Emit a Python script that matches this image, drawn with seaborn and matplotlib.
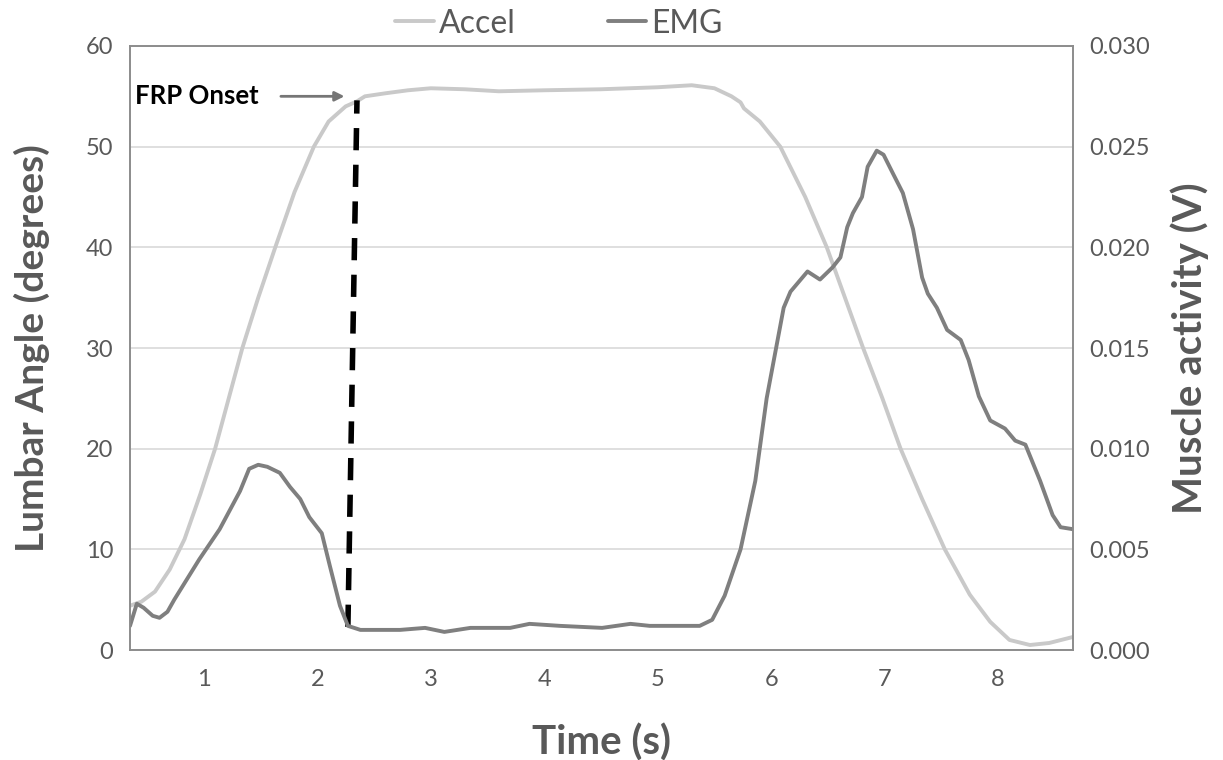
import pandas as pd
import matplotlib.pyplot as plt
import seaborn as sns
from matplotlib.lines import Line2D

# Lumbar angle from accelerometer (degrees)
accel_time = [0.35, 0.45, 0.57, 0.70, 0.83, 0.97, 1.10, 1.22, 1.34, 1.48, 1.63, 1.80,
              1.97, 2.10, 2.25, 2.35, 2.42, 2.60, 2.80, 3.00, 3.30, 3.60, 4.00, 4.50,
              5.00, 5.30, 5.50, 5.65, 5.73, 5.76, 5.90, 6.08, 6.30, 6.49, 6.65, 6.81,
              6.98, 7.14, 7.33, 7.53, 7.75, 7.93, 8.10, 8.28, 8.45, 8.66]
accel_deg = [4.4, 4.8, 5.8, 8.0, 11.0, 15.5, 20.0, 25.0, 30.0, 35.0, 40.0, 45.5,
             50.0, 52.5, 54.0, 54.5, 55.0, 55.3, 55.6, 55.8, 55.7, 55.5, 55.6, 55.7,
             55.9, 56.1, 55.8, 55.0, 54.4, 53.8, 52.5, 50.0, 45.0, 40.0, 35.0, 30.0,
             25.0, 20.0, 15.0, 10.0, 5.5, 2.8, 1.0, 0.5, 0.7, 1.3]

# Muscle activity (V)
emg_time = [0.35, 0.41, 0.47, 0.55, 0.61, 0.68, 0.74, 0.85, 0.96, 1.14, 1.32, 1.40,
            1.48, 1.56, 1.67, 1.76, 1.85, 1.93, 2.04, 2.11, 2.20, 2.27, 2.38, 2.73,
            2.95, 3.12, 3.35, 3.70, 3.87, 4.14, 4.51, 4.76, 4.93, 5.37, 5.48, 5.59,
            5.73, 5.86, 5.96, 6.03, 6.11, 6.17, 6.32, 6.43, 6.54, 6.61, 6.67, 6.72,
            6.80, 6.85, 6.93, 6.99, 7.07, 7.16, 7.25, 7.33, 7.38, 7.46, 7.55, 7.67,
            7.74, 7.83, 7.93, 8.06, 8.15, 8.24, 8.37, 8.48, 8.55, 8.66]
emg_v = [0.0012, 0.0023, 0.0021, 0.0017, 0.0016, 0.0019, 0.0025, 0.0035, 0.0045, 0.0060,
         0.0079, 0.0090, 0.0092, 0.0091, 0.0088, 0.0081, 0.0075, 0.0066, 0.0058, 0.0042,
         0.0022, 0.0012, 0.0010, 0.0010, 0.0011, 0.0009, 0.0011, 0.0011, 0.0013, 0.0012,
         0.0011, 0.0013, 0.0012, 0.0012, 0.0015, 0.0027, 0.0050, 0.0084, 0.0125, 0.0146,
         0.0170, 0.0178, 0.0188, 0.0184, 0.0190, 0.0195, 0.0210, 0.0217, 0.0225, 0.0240,
         0.0248, 0.0246, 0.0237, 0.0227, 0.0209, 0.0185, 0.0177, 0.0170, 0.0159, 0.0154,
         0.0144, 0.0126, 0.0114, 0.0110, 0.0104, 0.0102, 0.0084, 0.0067, 0.0061, 0.0060]

# FRP onset marker (time, degrees)
onset_time = [2.27, 2.35]
onset_deg = [2.3, 54.6]

accel_df = pd.DataFrame({'time': accel_time, 'angle': accel_deg})
emg_df = pd.DataFrame({'time': emg_time, 'volts': emg_v})

sns.set_style("white")
plt.rcParams['font.family'] = ['Lato', 'DejaVu Sans']

text_col = '#595959'
accel_col = '#c9c9c9'
emg_col = '#7f7f7f'

fig = plt.figure(figsize=(12.23, 7.6), dpi=100)
ax = fig.add_axes([0.1063, 0.1447, 0.7711, 0.7948])
ax2 = ax.twinx()

sns.lineplot(data=accel_df, x='time', y='angle', ax=ax, color=accel_col, linewidth=2.8)
sns.lineplot(data=emg_df, x='time', y='volts', ax=ax2, color=emg_col, linewidth=2.8)
for ln in ax.lines + ax2.lines:
    ln.set_solid_joinstyle('round')
    ln.set_solid_capstyle('round')
ax.plot(onset_time, onset_deg, color='black', linewidth=4, dashes=(4, 2.6), zorder=5)

ax.set_xlim(0.35, 8.66)
ax.set_ylim(0, 60)
ax2.set_ylim(0, 0.030)
ax.set_xticks(range(1, 9))
ax.set_yticks(range(0, 61, 10))
ax2.set_yticks([0, 0.005, 0.01, 0.015, 0.02, 0.025, 0.03])
ax2.set_yticklabels([f'{v:.3f}' for v in ax2.get_yticks()])

ax.yaxis.grid(True, color='#d9d9d9', linewidth=1.2)
ax.set_axisbelow(True)
for a in (ax, ax2):
    a.tick_params(length=0, labelsize=17, labelcolor=text_col, pad=12)
    for s in a.spines.values():
        s.set_color('#8c8c8c')
        s.set_linewidth(1.2)
ax.tick_params(axis='x', pad=14)

ax.set_xlabel('Time (s)', fontsize=29, fontweight='bold', color=text_col, labelpad=24)
ax.set_ylabel('Lumbar Angle (degrees)', fontsize=28, fontweight='bold', color=text_col, labelpad=26)
ax2.set_ylabel('Muscle activity (V)', fontsize=29, fontweight='bold', color=text_col, labelpad=14)

ax.annotate('FRP Onset', xy=(2.24, 55.0), xytext=(0.39, 55.0),
            fontsize=18.5, fontweight='bold', color='black', va='center',
            arrowprops=dict(arrowstyle='-|>', color='#767676', lw=2, mutation_scale=14,
                            shrinkA=14, shrinkB=0))

handles = [Line2D([], [], color=accel_col, linewidth=2.8),
           Line2D([], [], color=emg_col, linewidth=2.8)]
fig.legend(handles, ['Accel', 'EMG'], loc='center', bbox_to_anchor=(0.457, 0.969),
           ncol=2, frameon=False, fontsize=23, handlelength=1.2, handletextpad=0.15,
           columnspacing=2.9, labelcolor=text_col)

fig.savefig('out.png', dpi=100)
